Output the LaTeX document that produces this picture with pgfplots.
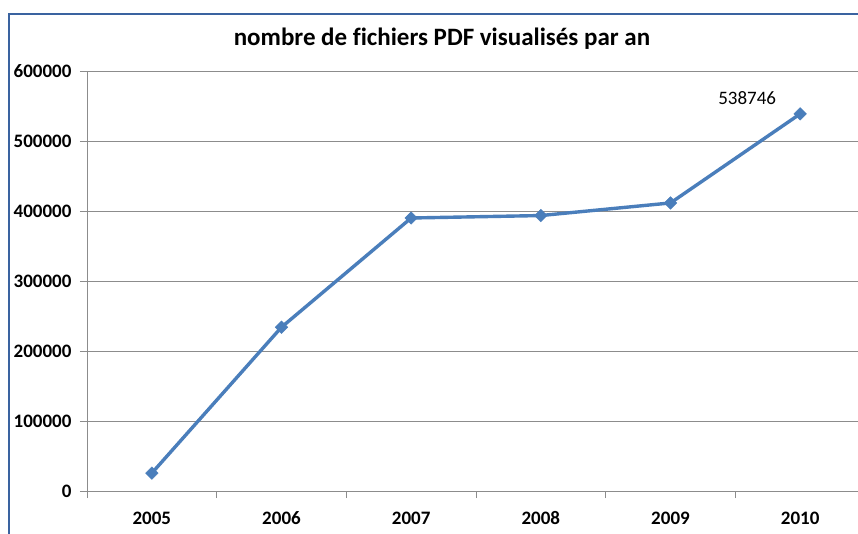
\documentclass[border=0pt]{standalone}
\usepackage{pgfplots}
\pgfplotsset{compat=1.18}
\usepackage{fontspec}
\setmainfont{Carlito}[Ligatures=NoCommon]
\definecolor{lineblue}{HTML}{4A7EBB}
\definecolor{gridgray}{HTML}{8C8C8C}
\definecolor{frameblue}{HTML}{3A63A0}
\begin{document}
\begin{tikzpicture}[x=1pt,y=1pt]
\useasboundingbox (0,0) rectangle (858,533);
\clip (0,0) rectangle (858,533);
\fill[white] (0,0) rectangle (858,533);
\draw[frameblue, line width=2.4pt] (9,-30) rectangle (900,519);
\node[font=\fontsize{25}{30}\selectfont\bfseries] at (442,494) {nombre de fichiers PDF visualisés par an};
\begin{axis}[
  at={(87pt,42pt)}, anchor=south west, scale only axis,
  width=778pt, height=420pt,
  xmin=-0.5, xmax=5.5, ymin=0, ymax=600000,
  axis x line*=bottom, axis y line*=left,
  ytick={0,100000,...,600000},
  scaled y ticks=false,
  yticklabel style={/pgf/number format/fixed, /pgf/number format/1000 sep={}, xshift=-5pt},
  /pgf/number format/assume math mode=true,
  ymajorgrids, grid style={gridgray, line width=0.9pt},
  axis line style={gridgray, line width=0.9pt},
  tick align=outside, major tick length=7pt,
  tick style={gridgray, line width=0.9pt},
  xtick={-0.5,0.5,...,5.5}, xticklabels={},
  extra x ticks={0,1,2,3,4,5},
  extra x tick labels={2005,2006,2007,2008,2009,2010},
  extra x tick style={tick style={draw=none}},
  ticklabel style={font=\fontsize{19}{22}\selectfont\bfseries, text=black},
  xticklabel style={text height=12pt, text depth=0pt, yshift=-11pt},
  clip=false,
]
\addplot[lineblue, line width=3.4pt, mark=square*, mark size=4.4pt,
  mark options={rotate=45, fill=lineblue, draw=lineblue, line width=0.5pt}]
  coordinates {(0,25500) (1,234000) (2,390000) (3,393500) (4,411500) (5,538746)};
\node[font=\fontsize{19}{22}\selectfont, xshift=-53pt, yshift=16pt] at (axis cs:5,538746) {538746};
\end{axis}
\end{tikzpicture}
\end{document}
